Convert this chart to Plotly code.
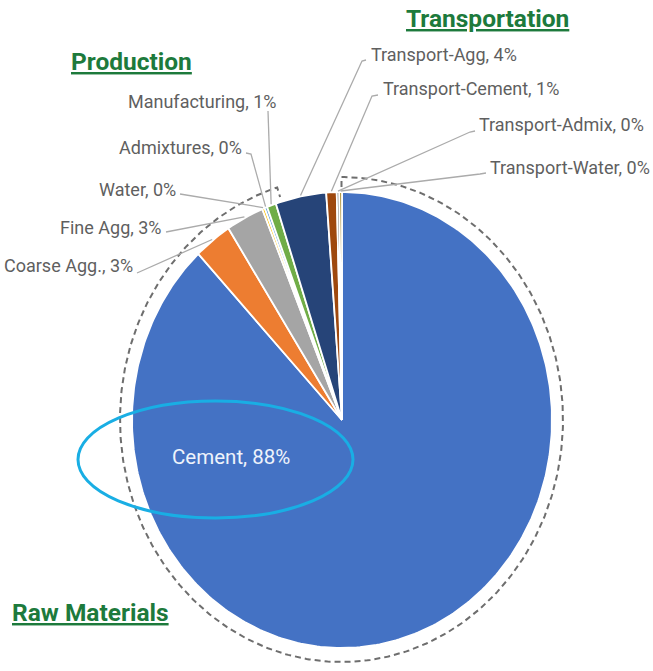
import numpy as np
import plotly.graph_objects as go

# ---------------- data ----------------
labels = ["Cement", "Coarse Agg.", "Fine Agg", "Water", "Admixtures",
          "Manufacturing", "Transport-Agg", "Transport-Cement",
          "Transport-Admix", "Transport-Water"]
values = [88.0, 2.9, 2.9, 0.2, 0.2, 0.7, 3.9, 0.8, 0.2, 0.2]
groups = ["Raw Materials"] * 5 + ["Production"] + ["Transportation"] * 4
colors = ["#4472C4", "#ED7D31", "#A5A5A5", "#FFC000", "#5B9BD5",
          "#70AD47", "#264478", "#9E480E", "#636363", "#997300"]

# ---------------- layout constants (pixels) ----------------
W, H = 653, 671
CX, CY, RX, RY = 342, 420, 210, 228          # pie ellipse
DCX, DCY, DRX, DRY = 341.5, 419.5, 221.5, 242.5  # dashed group outline

total = sum(values)
fracs = [v / total for v in values]
cum = np.concatenate([[0], np.cumsum(fracs)])


def pt(theta, cx=CX, cy=CY, rx=RX, ry=RY):
    return cx + rx * np.sin(theta), cy - ry * np.cos(theta)


fig = go.Figure()

# wedges
for i, lab in enumerate(labels):
    a0, a1 = cum[i] * 2 * np.pi, cum[i + 1] * 2 * np.pi
    n = max(4, int((a1 - a0) / (2 * np.pi) * 400))
    th = np.linspace(a0, a1, n)
    ex, ey = pt(th)
    xs = [CX] + list(ex) + [CX]
    ys = [CY] + list(ey) + [CY]
    fig.add_trace(go.Scatter(x=xs, y=ys, mode="lines", fill="toself",
                             fillcolor=colors[i],
                             line=dict(color="white", width=1.8),
                             hoverinfo="skip", showlegend=False))

# dashed outline around the Raw Materials group
raw_idx = [i for i, g in enumerate(groups) if g == "Raw Materials"]
g0 = cum[raw_idx[0]] * 2 * np.pi
g1 = cum[raw_idx[-1] + 1] * 2 * np.pi + np.radians(4)
th = np.linspace(g0, g1, 500)
dx, dy = pt(th, DCX, DCY, DRX, DRY)
sx0, sy0 = pt(g0, DCX, DCY, DRX - 10, DRY - 10)
sx1, sy1 = pt(g1, DCX, DCY, DRX - 10, DRY - 10)
fig.add_trace(go.Scatter(x=[sx0] + list(dx) + [sx1], y=[sy0] + list(dy) + [sy1],
                         mode="lines",
                         line=dict(color="#6E6E6E", width=2, dash="6px,4px"),
                         hoverinfo="skip", showlegend=False))

# outside labels: (text x, text y, xanchor, leader elbow points)
label_layout = {
    "Coarse Agg.": (135, 265, "right", [(137, 273)]),
    "Fine Agg": (164, 227, "right", [(166, 232)]),
    "Water": (178, 189, "right", [(180, 194)]),
    "Admixtures": (244, 147, "right", [(246, 153), (251, 154)]),
    "Manufacturing": (278, 101, "right", [(268, 111)]),
    "Transport-Agg": (369, 54, "left", [(366, 60), (362, 61)]),
    "Transport-Cement": (381, 88, "left", [(378, 95), (372, 96)]),
    "Transport-Admix": (477, 124, "left", [(475, 131), (470, 132)]),
    "Transport-Water": (488, 167, "left", [(486, 173), (480, 174)]),
}

annotations = []
for i, lab in enumerate(labels):
    pct = round(fracs[i] * 100)
    txt = f"{lab}, {pct}%"
    mid = (cum[i] + cum[i + 1]) / 2 * 2 * np.pi
    if lab in label_layout:
        tx, ty, anc, elbow = label_layout[lab]
        ex, ey = pt(mid, rx=RX + 1, ry=RY + 1)
        lx = [p[0] for p in elbow] + [ex]
        ly = [p[1] for p in elbow] + [ey]
        fig.add_trace(go.Scatter(x=lx, y=ly, mode="lines",
                                 line=dict(color="#ABABAB", width=1.3),
                                 hoverinfo="skip", showlegend=False))
        annotations.append(dict(x=tx, y=ty, xref="x", yref="y", text=txt,
                                showarrow=False, xanchor=anc, yanchor="middle",
                                font=dict(family="Roboto", size=18, color="#5F5F5F")))
    else:
        annotations.append(dict(x=231, y=457, xref="x", yref="y", text=txt,
                                showarrow=False, xanchor="center", yanchor="middle",
                                font=dict(family="Roboto", size=20.5, color="#EEF3FB")))

# group titles
title_layout = {
    "Production": (131, 61),
    "Transportation": (487, 18),
    "Raw Materials": (90, 612),
}
for g, (tx, ty) in title_layout.items():
    annotations.append(dict(x=tx, y=ty, xref="x", yref="y",
                            text=f"<b><u>{g}</u></b>", showarrow=False,
                            xanchor="center", yanchor="middle",
                            font=dict(family="Roboto", size=24.5, color="#1D7A3C")))

fig.update_layout(
    width=W, height=H,
    margin=dict(l=0, r=0, t=0, b=0),
    paper_bgcolor="white", plot_bgcolor="white",
    xaxis=dict(range=[0, W], visible=False, fixedrange=True),
    yaxis=dict(range=[H, 0], visible=False, fixedrange=True),
    annotations=annotations,
    shapes=[dict(type="circle", xref="x", yref="y", x0=78, x1=353, y0=401, y1=518,
                 line=dict(color="#19AEE4", width=3), layer="above")],
)

fig.write_html("out.html")
